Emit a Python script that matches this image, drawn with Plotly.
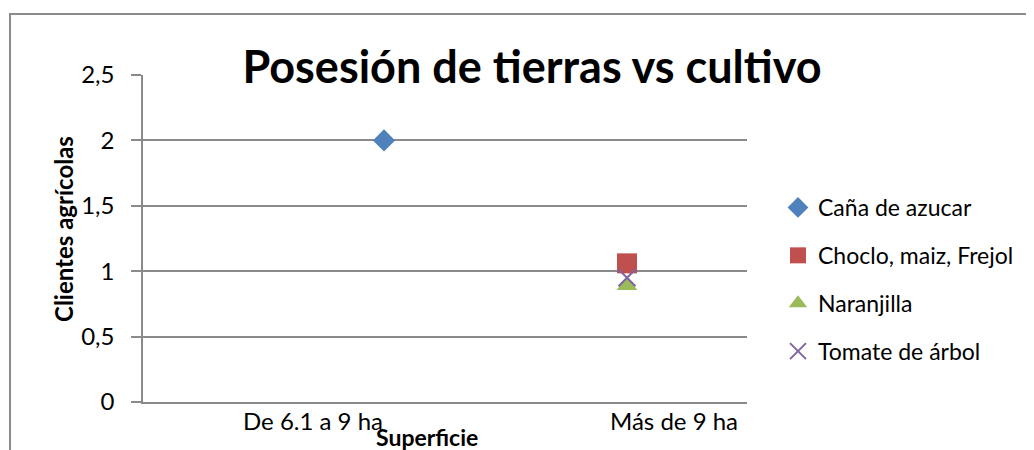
import plotly.graph_objects as go

# ---- data ----
categories = ["De 6.1 a 9 ha", "Más de 9 ha"]
series_names = ["Caña de azucar", "Choclo, maiz, Frejol", "Naranjilla", "Tomate de árbol"]
cana = [2, None]
choclo = [None, 1.06]
naranjilla = [None, 0.89]
tomate = [None, 0.95]
y_ticks = [0, 0.5, 1, 1.5, 2, 2.5]
y_tick_labels = ["0", "0,5", "1", "1,5", "2", "2,5"]
title_text = "Posesión de tierras vs cultivo"
x_title = "Superficie"
y_title = "Clientes agrícolas"

# ---- styles ----
FONT = "Lato"
OFF = 8                      # page body margin
W, H = 1034 - OFF, 450 - OFF
# plot area in page pixels: x 143..747, y 75..402
PX0, PX1, PY0, PY1 = 143, 747, 75, 402
L, R, T, B = PX0 - OFF, W - (PX1 - OFF), PY0 - OFF, H - (PY1 - OFF)
pw, ph = PX1 - PX0, PY1 - PY0


def px_x(p):  # page x pixel -> paper
    return (p - PX0) / pw


def px_y(p):  # page y pixel -> paper
    return (PY1 - p) / ph


grid_col = "#8a8a8a"
marker_styles = [
    dict(symbol="diamond", size=17, color="#4F81BD"),
    dict(symbol="square", size=20, color="#C0504D"),
    dict(symbol="triangle-up", size=18, color="#9BBB59"),
    dict(symbol="x-thin", size=17, color="#8064A2", line=dict(width=2, color="#8064A2")),
]
label_xshift = [-71, 47]
cat_px = 243  # pixel distance between categories

xi = list(range(len(categories)))
fig = go.Figure()
for name, vals, ms in zip(series_names, [cana, choclo, naranjilla, tomate], marker_styles):
    fig.add_trace(go.Scatter(x=xi, y=vals, mode="markers", name=name, marker=ms,
                             legendgroup=name, cliponaxis=False))

# category labels under the axis
for i, cat in enumerate(categories):
    fig.add_annotation(x=xi[i], y=0, xref="x", yref="paper", text=cat, showarrow=False,
                       xanchor="center", yanchor="top", yshift=-2, xshift=label_xshift[i],
                       font=dict(family=FONT, size=24, color="black"))
# x-axis title
fig.add_annotation(x=px_x(427), y=px_y(437), xref="paper", yref="paper",
                   text="<b>" + x_title + "</b>", showarrow=False, xanchor="center", yanchor="middle",
                   font=dict(family=FONT, size=23, color="black"))
# y-axis title
fig.add_annotation(x=px_x(63), y=px_y(229), xref="paper", yref="paper", textangle=-90,
                   text="<b>" + y_title + "</b>", showarrow=False, xanchor="center", yanchor="middle",
                   font=dict(family=FONT, size=24, color="black"))

# chart border (extends past the right and bottom edges)
fig.add_shape(type="rect", xref="paper", yref="paper",
              x0=px_x(10), x1=px_x(1060), y0=px_y(480), y1=px_y(14),
              line=dict(color="#8c8c8c", width=2), fillcolor="rgba(0,0,0,0)", layer="below")

fig.update_layout(
    width=W, height=H,
    margin=dict(l=L, r=R, t=T, b=B),
    paper_bgcolor="white", plot_bgcolor="white",
    separators=",.",
    title=dict(text="<b>" + title_text + "</b>", x=(532 - OFF) / W, xref="container", xanchor="center",
               y=1 - (67 - OFF) / H, yref="container", yanchor="middle",
               font=dict(family=FONT, size=45, color="black")),
    xaxis=dict(range=[-(384 - PX0) / cat_px, 1 + (PX1 - 627) / cat_px], showgrid=False, zeroline=False,
               showticklabels=False, showline=True, linecolor=grid_col, linewidth=1.5, ticks=""),
    yaxis=dict(range=[0, 2.5], tickvals=y_ticks, ticktext=y_tick_labels, showgrid=True,
               gridcolor=grid_col, gridwidth=1.5, zeroline=False, showline=True, linecolor=grid_col,
               linewidth=1.5, ticks="outside", ticklen=10, tickcolor=grid_col, tickwidth=1.5,
               ticklabelstandoff=12,
               tickfont=dict(family=FONT, size=24, color="black")),
    showlegend=True,
    legend=dict(x=px_x(778), xanchor="left", y=px_y(186), yanchor="top",
                font=dict(family=FONT, size=23, color="black"), tracegroupgap=15,
                traceorder="grouped", bgcolor="rgba(0,0,0,0)"),
)

fig.write_html("out.html")
